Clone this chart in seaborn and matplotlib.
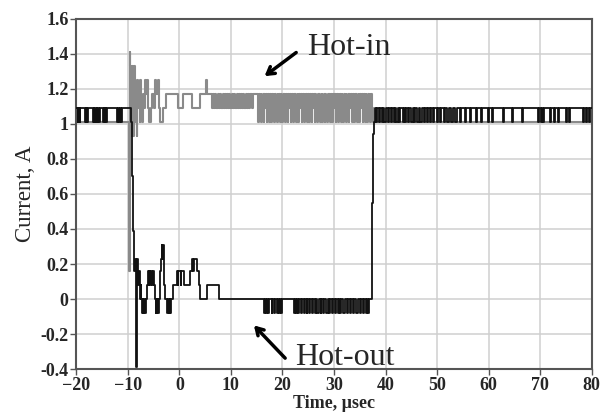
import matplotlib
matplotlib.use("Agg")
import matplotlib.pyplot as plt
from matplotlib.ticker import MultipleLocator, FuncFormatter
import seaborn as sns
import pandas as pd

# Hot-out current (black), step change points: time in usec, current in A
hot_out_t = [-20.0,
             -19.7, -19.6, -19.5, -19.4, -19.3, -19.2,
             -18.3, -18.2, -18.1, -18.0, -17.9, -17.8,
             -16.7, -16.6, -16.5, -16.3, -16.2, -16.0, -15.9, -15.7, -15.6, -15.4,
             -14.8, -14.7, -14.5, -14.4, -14.3, -14.1,
             -12.0, -11.9, -11.7, -11.6, -11.4, -11.2,
             -9.4, -9.25, -9.1, -9.0, -8.9, -8.8, -8.7, -8.6, -8.5, -8.4, -8.3, -8.2,
             -8.1, -8.0, -7.9, -7.7, -7.5, -7.4, -7.2, -7.1, -7.0, -6.8, -6.7, -6.5,
             -6.2, -6.0, -5.9, -5.8, -5.6, -5.5, -5.3, -5.2, -5.0, -4.8, -4.6, -4.5,
             -4.4, -4.3, -4.2, -4.0, -3.8, -3.7, -3.55, -3.45, -3.3, -3.2, -3.05, -2.9,
             -2.7, -2.3, -2.2, -2.1, -1.9, -1.8, -1.6, -1.2, -0.5, -0.3, -0.2, 0.3,
             0.4, 0.84, 2.1, 2.5, 2.7, 2.8, 3.4, 3.75, 4.1, 5.4, 7.6,
             16.4, 16.6, 16.8, 17.0, 17.2, 17.4, 17.9, 18.0, 18.3, 18.5,
             19.0, 19.2, 19.4, 19.6, 19.7, 19.9,
             22.2, 22.4, 22.6, 22.8, 23.1, 23.3, 23.6, 23.8, 24.1, 24.4, 24.7, 24.8,
             25.2, 25.4, 25.8, 26.0, 26.3, 26.5, 26.8, 27.0, 27.4, 27.5, 27.8, 28.0,
             28.5, 28.8, 29.1, 29.3, 29.6, 29.8, 30.2, 30.3, 30.7, 30.9, 31.2, 31.4,
             31.8, 32.1, 32.5, 32.7, 33.1, 33.3, 33.7, 33.9, 34.3, 34.6, 35.1, 35.3,
             35.6, 35.8, 36.2, 36.4, 36.6, 36.8,
             37.3, 37.45, 37.6, 37.75, 37.9,
             38.2, 38.4, 38.7, 38.9, 39.3, 39.5, 39.8, 40.0, 40.5, 40.6, 41.0, 41.2,
             41.6, 41.8, 42.1, 42.4, 42.7, 42.9, 43.3, 43.5, 43.8, 44.0, 44.4, 44.6,
             45.0, 45.3, 45.6, 45.8, 46.2, 46.4, 46.7, 47.0, 47.4, 47.6, 48.0, 48.2,
             48.6, 48.8, 49.2, 49.5, 49.9, 50.1, 50.6, 50.8, 51.3, 51.5, 52.0, 52.3,
             52.8, 53.0, 53.5, 53.8, 54.5, 54.7, 55.4, 55.6, 56.3, 56.5, 57.5, 57.7,
             58.6, 58.8, 59.8, 60.0, 60.6, 60.8,
             62.8, 63.0, 64.6, 64.8, 66.5, 66.7, 69.6, 69.8, 70.2, 70.4, 70.6, 70.8,
             72.0, 72.2, 72.6, 72.8, 73.5, 73.7, 75.0, 75.2, 75.6, 75.8,
             78.4, 78.6, 78.9, 79.1, 79.5, 79.7, 80.0]
hot_out_a = [1.09,
             1.01, 1.09, 1.01, 1.09, 1.01, 1.09,
             1.01, 1.09, 1.01, 1.09, 1.01, 1.09,
             1.01, 1.09, 1.01, 1.09, 1.01, 1.09, 1.01, 1.09, 1.01, 1.09,
             1.01, 1.09, 1.01, 1.09, 1.01, 1.09,
             1.01, 1.09, 1.01, 1.09, 1.01, 1.09,
             1.01, 0.86, 0.70, 0.55, 0.39, 0.31, 0.16, 0.23, 0.08, -0.39, 0.16, 0.23,
             0.16, 0.08, 0.16, 0.0, 0.08, 0.0, -0.08, 0.0, -0.08, 0.0, -0.08, 0.0,
             0.08, 0.16, 0.08, 0.16, 0.08, 0.16, 0.08, 0.16, 0.08, 0.0, -0.08, 0.0,
             -0.08, 0.0, -0.08, 0.0, 0.08, 0.16, 0.23, 0.31, 0.23, 0.31, 0.16, 0.08,
             0.0, -0.08, 0.0, -0.08, 0.0, -0.08, 0.0, 0.08, 0.16, 0.08, 0.16, 0.08,
             0.16, 0.08, 0.16, 0.23, 0.16, 0.23, 0.16, 0.08, 0.0, 0.08, 0.0,
             -0.08, 0.0, -0.08, 0.0, -0.08, 0.0, -0.08, 0.0, -0.08, 0.0,
             -0.08, 0.0, -0.08, 0.0, -0.08, 0.0,
             -0.08, 0.0, -0.08, 0.0, -0.08, 0.0, -0.08, 0.0, -0.08, 0.0, -0.08, 0.0,
             -0.08, 0.0, -0.08, 0.0, -0.08, 0.0, -0.08, 0.0, -0.08, 0.0, -0.08, 0.0,
             -0.08, 0.0, -0.08, 0.0, -0.08, 0.0, -0.08, 0.0, -0.08, 0.0, -0.08, 0.0,
             -0.08, 0.0, -0.08, 0.0, -0.08, 0.0, -0.08, 0.0, -0.08, 0.0, -0.08, 0.0,
             -0.08, 0.0, -0.08, 0.0, -0.08, 0.0,
             0.02, 0.55, 0.94, 1.01, 1.09,
             1.01, 1.09, 1.01, 1.09, 1.01, 1.09, 1.01, 1.09, 1.01, 1.09, 1.01, 1.09,
             1.01, 1.09, 1.01, 1.09, 1.01, 1.09, 1.01, 1.09, 1.01, 1.09, 1.01, 1.09,
             1.01, 1.09, 1.01, 1.09, 1.01, 1.09, 1.01, 1.09, 1.01, 1.09, 1.01, 1.09,
             1.01, 1.09, 1.01, 1.09, 1.01, 1.09, 1.01, 1.09, 1.01, 1.09, 1.01, 1.09,
             1.01, 1.09, 1.01, 1.09, 1.01, 1.09, 1.01, 1.09, 1.01, 1.09, 1.01, 1.09,
             1.01, 1.09, 1.01, 1.09, 1.01, 1.09,
             1.01, 1.09, 1.01, 1.09, 1.01, 1.09, 1.01, 1.09, 1.01, 1.09, 1.01, 1.09,
             1.01, 1.09, 1.01, 1.09, 1.01, 1.09, 1.01, 1.09, 1.01, 1.09,
             1.01, 1.09, 1.01, 1.09, 1.01, 1.09, 1.09]

# Hot-in current (gray): switch-over ringing and the first flat part
hot_in_t = [-20.0, -9.75, -9.65, -9.5, -9.35, -9.2, -9.05, -8.9, -8.75, -8.6, -8.45,
            -8.3, -8.15, -8.0, -7.85, -7.7, -7.55, -7.4, -7.2, -7.0, -6.8, -6.6,
            -6.4, -6.2, -6.0, -5.8, -5.5, -5.3, -5.0, -4.7, -4.5, -4.2, -3.9, -3.7,
            -3.2, -2.6, -0.2, 0.7, 2.5, 4.1, 5.1, 5.3,
            6.4, 6.6, 6.8, 7.0, 7.2, 7.5, 7.7, 7.9, 8.1, 8.4, 8.6, 8.8, 9.0, 9.3,
            9.5, 9.7, 9.9, 10.2, 10.4, 10.6, 10.8, 11.1, 11.3, 11.5, 11.7, 12.0,
            12.2, 12.4, 12.6, 12.9, 13.1, 13.3, 13.5, 13.8, 14.0, 14.2]
hot_in_a = [1.01, 0.16, 1.41, 1.33, 0.93, 1.33, 1.25, 0.93, 1.33, 1.01, 1.17,
            0.93, 1.25, 1.09, 1.17, 1.01, 1.25, 1.09, 1.01, 1.17, 1.09, 1.25,
            1.17, 1.25, 1.09, 1.01, 1.09, 1.17, 1.09, 1.25, 1.17, 1.25, 1.09, 1.01,
            1.09, 1.17, 1.09, 1.17, 1.09, 1.17, 1.25, 1.17,
            1.09, 1.17, 1.09, 1.17, 1.09, 1.17, 1.09, 1.17, 1.09, 1.17, 1.09, 1.17, 1.09, 1.17,
            1.09, 1.17, 1.09, 1.17, 1.09, 1.17, 1.09, 1.17, 1.09, 1.17, 1.09, 1.17,
            1.09, 1.17, 1.09, 1.17, 1.09, 1.17, 1.09, 1.17, 1.09, 1.17]

# Hot-in current (gray): noisy band from ~15 to ~37.5 usec
hot_in_band_t = [15.30, 15.45, 15.60, 15.75, 15.90, 16.05, 16.20, 16.35, 16.50, 16.65, 16.80, 16.95,
                 17.10, 17.25, 17.40, 17.55, 17.70, 17.85, 18.00, 18.15, 18.30, 18.45, 18.60, 18.75,
                 18.90, 19.05, 19.20, 19.35, 19.50, 19.65, 19.80, 19.95, 20.10, 20.25, 20.40, 20.55,
                 20.70, 20.85, 21.00, 21.15, 21.30, 21.45, 21.60, 21.75, 21.90, 22.05, 22.20, 22.35,
                 22.50, 22.65, 22.80, 22.95, 23.10, 23.25, 23.40, 23.55, 23.70, 23.85, 24.00, 24.15,
                 24.30, 24.45, 24.60, 24.75, 24.90, 25.05, 25.20, 25.35, 25.50, 25.65, 25.80, 25.95,
                 26.10, 26.25, 26.40, 26.55, 26.70, 26.85, 27.00, 27.15, 27.30, 27.45, 27.60, 27.75,
                 27.90, 28.05, 28.20, 28.35, 28.50, 28.65, 28.80, 28.95, 29.10, 29.25, 29.40, 29.55,
                 29.70, 29.85, 30.00, 30.15, 30.30, 30.45, 30.60, 30.75, 30.90, 31.05, 31.20, 31.35,
                 31.50, 31.65, 31.80, 31.95, 32.10, 32.25, 32.40, 32.55, 32.70, 32.85, 33.00, 33.15,
                 33.30, 33.45, 33.60, 33.75, 33.90, 34.05, 34.20, 34.35, 34.50, 34.65, 34.80, 34.95,
                 35.10, 35.25, 35.40, 35.55, 35.70, 35.85, 36.00, 36.15, 36.30, 36.45, 36.60, 36.75,
                 36.90, 37.05, 37.20, 37.35, 37.50, 80.0]
hot_in_band_a = [1.01, 1.17, 1.09, 1.17, 1.01, 1.09, 1.17, 1.01, 1.17, 1.09, 1.17, 1.01,
                 1.09, 1.17, 1.01, 1.17, 1.09, 1.01, 1.17, 1.09, 1.17, 1.01, 1.17, 1.09,
                 1.01, 1.17, 1.09, 1.17, 1.01, 1.17, 1.09, 1.01, 1.17, 1.09, 1.17, 1.01,
                 1.17, 1.09, 1.01, 1.17, 1.09, 1.17, 1.01, 1.09, 1.17, 1.01, 1.17, 1.09,
                 1.17, 1.01, 1.09, 1.17, 1.01, 1.17, 1.09, 1.17, 1.01, 1.09, 1.17, 1.01,
                 1.17, 1.09, 1.17, 1.01, 1.09, 1.17, 1.01, 1.17, 1.09, 1.01, 1.17, 1.09,
                 1.17, 1.01, 1.17, 1.09, 1.01, 1.17, 1.09, 1.17, 1.01, 1.09, 1.17, 1.01,
                 1.09, 1.17, 1.01, 1.17, 1.09, 1.01, 1.17, 1.09, 1.17, 1.01, 1.17, 1.09,
                 1.01, 1.17, 1.09, 1.17, 1.01, 1.09, 1.17, 1.01, 1.17, 1.09, 1.17, 1.01,
                 1.17, 1.09, 1.01, 1.17, 1.09, 1.17, 1.01, 1.09, 1.17, 1.01, 1.17, 1.09,
                 1.17, 1.01, 1.09, 1.17, 1.01, 1.17, 1.09, 1.17, 1.01, 1.09, 1.17, 1.01,
                 1.17, 1.09, 1.17, 1.01, 1.09, 1.17, 1.01, 1.17, 1.09, 1.01, 1.17, 1.09,
                 1.17, 1.01, 1.17, 1.09, 1.01, 1.01]

x_ticks = [-20, -10, 0, 10, 20, 30, 40, 50, 60, 70, 80]

hot_in = pd.DataFrame({"time": hot_in_t + hot_in_band_t,
                       "current": hot_in_a + hot_in_band_a})
hot_out = pd.DataFrame({"time": hot_out_t, "current": hot_out_a})

sns.set_style("whitegrid")
plt.rcParams['font.family'] = ['Liberation Serif', 'DejaVu Serif']

fig, ax = plt.subplots(figsize=(6.1, 4.18), dpi=100)
fig.subplots_adjust(left=0.125, right=0.970, top=0.955, bottom=0.117)

sns.lineplot(data=hot_in, x="time", y="current", estimator=None, sort=False,
             drawstyle="steps-post", color="#8a8a8a", lw=1.5, ax=ax, zorder=2)
sns.lineplot(data=hot_out, x="time", y="current", estimator=None, sort=False,
             drawstyle="steps-post", color="#111111", lw=1.3, ax=ax, zorder=3)

ax.set_xlim(-20, 80)
ax.set_ylim(-0.4, 1.6)
ax.set_xticks(x_ticks)
ax.yaxis.set_major_locator(MultipleLocator(0.2))
ax.yaxis.set_major_formatter(FuncFormatter(lambda v, p: f"{round(v, 1):g}"))
ax.grid(True, color="#cfcfcf", lw=1.1)
for s in ax.spines.values():
    s.set_visible(True)
    s.set_color("#555555")
    s.set_linewidth(1.5)
ax.tick_params(axis="both", which="major", length=4, width=1, color="#555555",
               direction="out", left=True, bottom=True, pad=1.5, labelsize=13)
for lab in ax.get_xticklabels() + ax.get_yticklabels():
    lab.set_fontweight("bold")

ax.set_xlabel("Time, \u00b5sec", fontsize=13, fontweight="bold", labelpad=1)
ax.set_ylabel("Current, A", fontsize=16.5, labelpad=3)

# annotations
ax.text(24.85, 1.394, "Hot-in", fontsize=23, ha="left", va="baseline")
ax.annotate("", xy=(16.1, 1.263), xytext=(23.1, 1.417),
            arrowprops=dict(arrowstyle="->,head_length=0.5,head_width=0.3",
                            lw=2.5, color="black"))
ax.text(22.5, -0.377, "Hot-out", fontsize=23, ha="left", va="baseline")
ax.annotate("", xy=(14.1, -0.139), xytext=(20.9, -0.349),
            arrowprops=dict(arrowstyle="->,head_length=0.5,head_width=0.3",
                            lw=2.5, color="black"))

fig.savefig("out.png", dpi=100)
